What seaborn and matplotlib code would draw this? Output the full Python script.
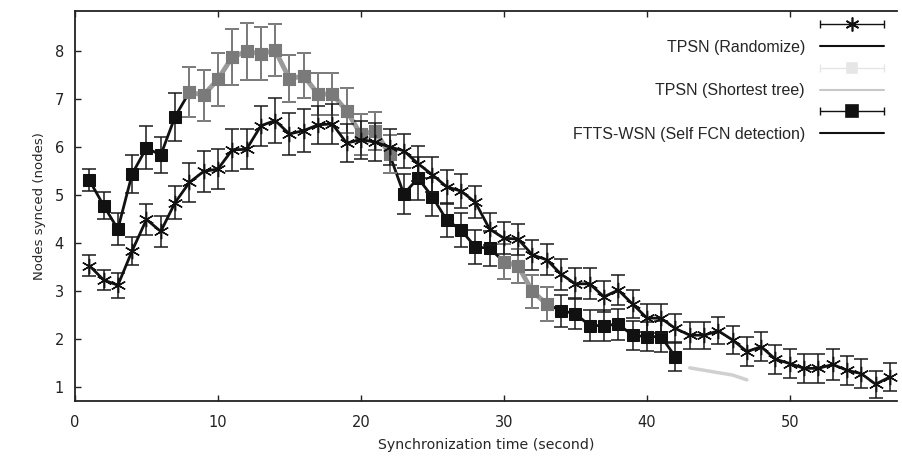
import matplotlib
matplotlib.use("Agg")
import matplotlib.pyplot as plt
from matplotlib.legend_handler import HandlerBase
from matplotlib.lines import Line2D
import numpy as np
import pandas as pd
import seaborn as sns

# --- data ---
rand_x = list(range(1, 58))
rand_y = [3.53, 3.23, 3.12, 3.84, 4.49, 4.24, 4.84, 5.26, 5.49, 5.54,
          5.94, 5.95, 6.44, 6.55, 6.27, 6.34, 6.46, 6.48, 6.08, 6.15,
          6.10, 6.00, 5.92, 5.65, 5.42, 5.17, 5.08, 4.85, 4.29, 4.10,
          4.08, 3.75, 3.65, 3.35, 3.15, 3.15, 2.88, 3.02, 2.73, 2.44,
          2.43, 2.22, 2.08, 2.08, 2.17, 1.98, 1.74, 1.84, 1.58, 1.49,
          1.39, 1.39, 1.47, 1.35, 1.28, 1.06, 1.21]
rand_err = [0.22, 0.21, 0.26, 0.29, 0.32, 0.32, 0.35, 0.40, 0.43, 0.42,
            0.44, 0.42, 0.42, 0.47, 0.44, 0.44, 0.40, 0.42, 0.39, 0.40,
            0.40, 0.38, 0.35, 0.36, 0.36, 0.35, 0.35, 0.34, 0.33, 0.33,
            0.32, 0.32, 0.32, 0.32, 0.32, 0.32, 0.32, 0.32, 0.30, 0.30,
            0.30, 0.30, 0.28, 0.28, 0.28, 0.30, 0.30, 0.30, 0.30, 0.30,
            0.30, 0.30, 0.32, 0.30, 0.30, 0.28, 0.30]

ftts_x = list(range(1, 43))
ftts_y = [5.31, 4.78, 4.29, 5.44, 5.98, 5.83, 6.63, 7.14, 7.08, 7.41,
          7.87, 7.99, 7.94, 8.01, 7.42, 7.48, 7.10, 7.10, 6.75, 6.26,
          6.33, 5.85, 5.02, 5.35, 4.96, 4.48, 4.27, 3.92, 3.89, 3.61,
          3.52, 2.99, 2.73, 2.59, 2.53, 2.28, 2.28, 2.31, 2.08, 2.05,
          2.05, 1.63]
ftts_err = [0.23, 0.28, 0.34, 0.40, 0.45, 0.38, 0.50, 0.52, 0.53, 0.55,
            0.58, 0.60, 0.55, 0.54, 0.49, 0.47, 0.43, 0.43, 0.47, 0.42,
            0.40, 0.40, 0.42, 0.45, 0.40, 0.36, 0.36, 0.36, 0.36, 0.36,
            0.35, 0.35, 0.35, 0.33, 0.33, 0.32, 0.32, 0.32, 0.30, 0.30,
            0.32, 0.30]

# shortest tree: faint grey, mostly lying on top of the FTTS curve
short_a_x = list(range(8, 23))
short_a_y = [7.14, 7.08, 7.41, 7.87, 7.99, 7.94, 8.01, 7.42, 7.48, 7.10,
             7.10, 6.75, 6.26, 6.33, 5.85]
short_a_err = [0.52, 0.53, 0.55, 0.58, 0.60, 0.55, 0.54, 0.49, 0.47, 0.43,
               0.43, 0.47, 0.42, 0.40, 0.40]
short_b_x = [30, 31, 32, 33]
short_b_y = [3.61, 3.52, 2.99, 2.73]
short_b_err = [0.36, 0.35, 0.35, 0.35]
short_c_x = [43, 44, 45, 46, 47]
short_c_y = [1.40, 1.35, 1.30, 1.25, 1.15]

x_ticks = [0, 10, 20, 30, 40, 50]
y_ticks = [1, 2, 3, 4, 5, 6, 7, 8]

STAR = (6, 2, 0)


class ErrKey(HandlerBase):
    """gnuplot-like key: horizontal bar with end caps and the point in the middle"""

    def __init__(self, marker, ms, color):
        super().__init__()
        self.marker, self.ms, self.color = marker, ms, color

    def create_artists(self, legend, orig_handle, xdescent, ydescent,
                       width, height, fontsize, trans):
        y = height / 2 - ydescent
        x0, x1 = -xdescent, width - xdescent
        bar = Line2D([x0, x1], [y, y], color=self.color, lw=1)
        caps = Line2D([x0, x1], [y, y], ls="none", marker="|", ms=6,
                      mew=1, color=self.color)
        pt = Line2D([(x0 + x1) / 2], [y], ls="none", marker=self.marker,
                    ms=self.ms, mew=1.2, color=self.color)
        for a in (bar, caps, pt):
            a.set_transform(trans)
        return [bar, caps, pt]


sns.set_theme(style="ticks")
plt.rcParams["font.family"] = ["DejaVu Sans"]

fig = plt.figure(figsize=(9.03, 4.67), dpi=100)
ax = fig.add_axes([75 / 903, 1 - 401 / 467, 822 / 903, 390 / 467])

df_rand = pd.DataFrame({"t": rand_x, "n": rand_y, "e": rand_err})
df_ftts = pd.DataFrame({"t": ftts_x, "n": ftts_y, "e": ftts_err})

# FTTS-WSN (black squares)
ax.errorbar(df_ftts["t"], df_ftts["n"], yerr=df_ftts["e"], fmt="none",
            ecolor="#1a1a1a", elinewidth=1.1, capsize=5, capthick=1.1, zorder=2)
sns.lineplot(data=df_ftts, x="t", y="n", ax=ax, color="#111111", lw=2,
             marker="s", markersize=8, markeredgecolor="#111111", zorder=3)

# TPSN shortest tree (grey, drawn over)
for sx, sy, se in [(short_a_x, short_a_y, short_a_err),
                   (short_b_x, short_b_y, short_b_err)]:
    ax.errorbar(sx, sy, yerr=se, fmt="none", ecolor="#8a8a8a",
                elinewidth=1.1, capsize=5, capthick=1.1, zorder=4)
    sns.lineplot(x=sx, y=sy, ax=ax, color="#9a9a9a", lw=3.5, marker="s",
                 markersize=9, markeredgecolor="#7a7a7a",
                 markerfacecolor="#7a7a7a", zorder=5)
sns.lineplot(x=short_c_x, y=short_c_y, ax=ax, color="#d0d0d0", lw=2.5,
             zorder=1)

# TPSN randomize (stars)
ax.errorbar(df_rand["t"], df_rand["n"], yerr=df_rand["e"], fmt="none",
            ecolor="#1a1a1a", elinewidth=1.1, capsize=5, capthick=1.1, zorder=6)
sns.lineplot(data=df_rand, x="t", y="n", ax=ax, color="#111111", lw=2,
             marker=STAR, markersize=11, markeredgewidth=1, markeredgecolor="#111111",
             zorder=7)

ax.set_xlim(0, 57.5)
ax.set_ylim(0.71, 8.83)
ax.set_xticks(x_ticks)
ax.set_yticks(y_ticks)
ax.tick_params(direction="in", length=4, width=1, labelsize=10.5,
               top=True, right=False, colors="#222222", pad=8)
ax.tick_params(axis="x", pad=10)
for side in ["left", "bottom", "top"]:
    ax.spines[side].set_color("#222222")
    ax.spines[side].set_linewidth(1.3)
ax.spines["right"].set_visible(False)
ax.set_xlabel("Synchronization time (second)", fontsize=10.2, labelpad=6)
ax.set_ylabel("Nodes synced (nodes)", fontsize=9.5, labelpad=6)

# legend in the gnuplot two-row style
h_rand = Line2D([], [], color="#111111")
h_rand_l = Line2D([], [], color="#111111", lw=1.5)
h_short = Line2D([], [], color="#e2e2e2")
h_short_l = Line2D([], [], color="#c8c8c8", lw=1.5)
h_ftts = Line2D([], [], color="#111111")
h_ftts_l = Line2D([], [], color="#111111", lw=1.5)
leg = ax.legend(
    [h_rand, h_rand_l, h_short, h_short_l, h_ftts, h_ftts_l],
    [" ", "TPSN (Randomize)", " ", "TPSN (Shortest tree)", " ",
     "FTTS-WSN (Self FCN detection)"],
    handler_map={h_rand: ErrKey(STAR, 10, "#111111"),
                 h_short: ErrKey("s", 7, "#e6e6e6"),
                 h_ftts: ErrKey("s", 8, "#111111")},
    loc="upper right", bbox_to_anchor=(884 / 903, 1 - 18 / 467),
    bbox_transform=fig.transFigure, frameon=False, markerfirst=False,
    borderpad=0, borderaxespad=0, handlelength=4.0, handletextpad=0.95,
    labelspacing=0.42,
    prop={"family": "Liberation Sans", "size": 11.5},
)

fig.savefig("out.png", dpi=100)
